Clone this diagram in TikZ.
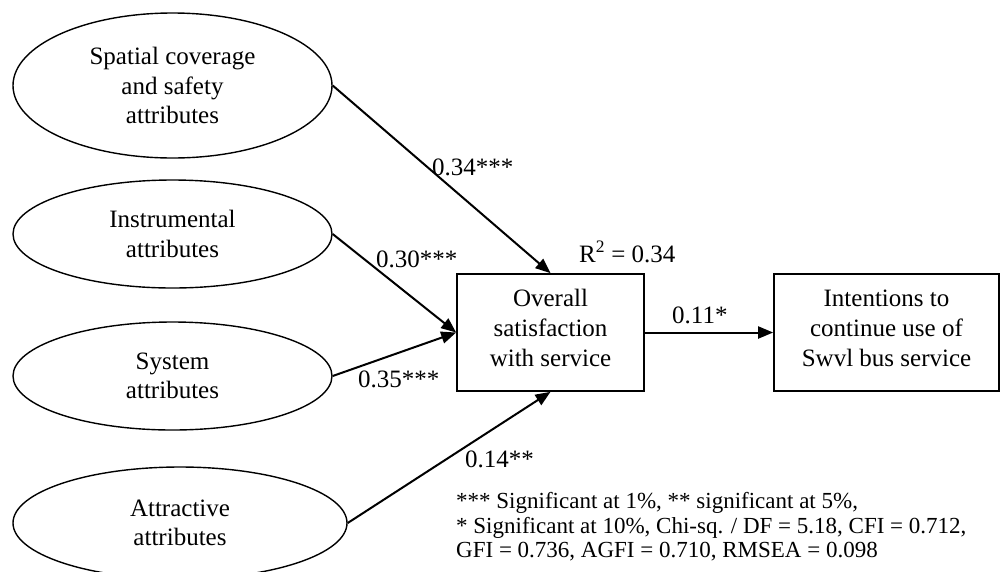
\documentclass[tikz,border=0pt]{standalone}
\usepackage{fontspec}
\setmainfont{Liberation Serif}
\usetikzlibrary{shapes.geometric,arrows.meta}
\begin{document}
\begin{tikzpicture}[x=1pt,y=-1pt,
  ell/.style={draw, ellipse, line width=1.4pt, inner sep=0pt, align=center,
    font=\fontsize{25}{29.5}\selectfont},
  boxn/.style={draw, rectangle, line width=1.7pt, inner sep=0pt, align=center,
    minimum height=117pt, font=\fontsize{25}{30}\selectfont},
  conn/.style={line width=2pt, -{Triangle[length=15pt,width=12pt]}},
  lab/.style={font=\fontsize{25}{29}\selectfont, inner sep=0pt, anchor=base west},
  note/.style={font=\fontsize{23}{24.5}\selectfont, inner sep=0pt, anchor=base west}]
\useasboundingbox (0,0) rectangle (1000,571);

\node[ell, minimum width=319pt, minimum height=145pt] (e1) at (172.5,85.5)
  {Spatial coverage\\and safety\\attributes};
\node[ell, minimum width=319pt, minimum height=108pt] (e2) at (172.5,234)
  {Instrumental\\attributes};
\node[ell, minimum width=319pt, minimum height=108pt] (e3) at (172.5,376)
  {System\\attributes};
\node[ell, minimum width=334pt, minimum height=112pt] (e4) at (180,523)
  {Attractive\\attributes};

\node[boxn, minimum width=187pt] (b1) at (550.5,332.5)
  {Overall\\satisfaction\\with service\strut};
\node[boxn, minimum width=225pt] (b2) at (886.5,332.5)
  {Intentions to\\continue use of\\Swvl bus service\strut};

\draw[conn] (e1.east) -- (b1.north);
\draw[conn] (e2.east) -- (b1.west);
\draw[conn] (e3.east) -- (b1.west);
\draw[conn] (e4.east) -- (b1.south);
\draw[conn] (b1.east) -- (b2.west);

\node[lab] (l1) at (432,175) {0.34***};
\node[lab] (l2) at (376,267) {0.30***};
\node[lab] (l3) at (358,387) {0.35***};
\node[lab] (l4) at (465,467) {0.14**};
\node[lab] (l5) at (672,323) {0.11*};
\node[lab] (r2) at (579,262) {R\textsuperscript{2} = 0.34};

\node[note] (n1) at (456,508) {*** Significant at 1\%, ** significant at 5\%,};
\node[note] (n2) at (456,533) {* Significant at 10\%, Chi-sq. / DF = 5.18, CFI = 0.712,};
\node[note] (n3) at (456,557) {GFI = 0.736, AGFI = 0.710, RMSEA = 0.098};
\end{tikzpicture}
\end{document}
